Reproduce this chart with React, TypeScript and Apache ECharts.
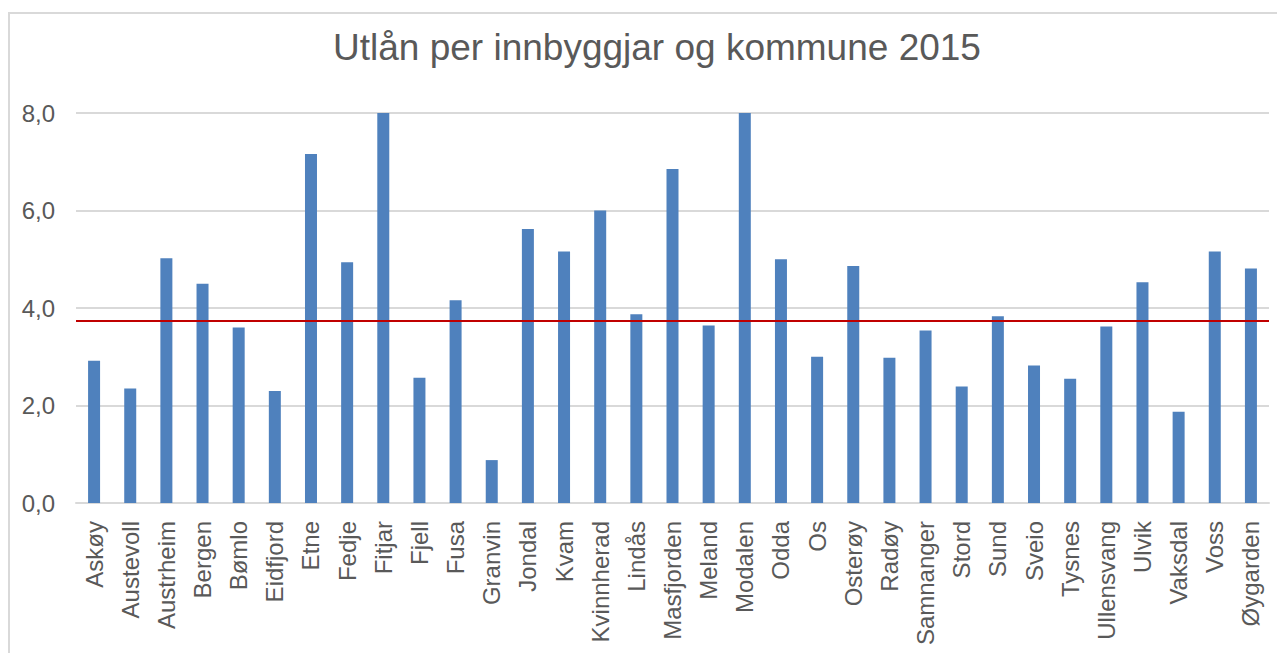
import React, { useEffect, useRef } from "react";
import * as echarts from "echarts";

const TITLE = "Utlån per innbyggjar og kommune 2015";

const categories = [
  "Askøy", "Austevoll", "Austrheim", "Bergen", "Bømlo", "Eidfjord", "Etne", "Fedje",
  "Fitjar", "Fjell", "Fusa", "Granvin", "Jondal", "Kvam", "Kvinnherad", "Lindås",
  "Masfjorden", "Meland", "Modalen", "Odda", "Os", "Osterøy", "Radøy", "Samnanger",
  "Stord", "Sund", "Sveio", "Tysnes", "Ullensvang", "Ulvik", "Vaksdal", "Voss", "Øygarden",
];

const loansPerInhabitant = [
  2.92, 2.35, 5.02, 4.5, 3.6, 2.3, 7.16, 4.94,
  8.0, 2.57, 4.16, 0.88, 5.62, 5.16, 6.0, 3.87,
  6.85, 3.64, 8.0, 5.0, 3.0, 4.86, 2.98, 3.54,
  2.39, 3.83, 2.82, 2.55, 3.62, 4.53, 1.87, 5.16, 4.81,
];

const averageValue = 3.73;

const yTicks = { min: 0, max: 8, interval: 2 };

export default function App() {
  const ref = useRef<HTMLDivElement>(null);

  useEffect(() => {
    if (!ref.current) return;
    const chart = echarts.init(ref.current, null, { renderer: "svg" });
    const font = "'Liberation Sans', Arial, sans-serif";
    chart.setOption({
      animation: false,
      textStyle: { fontFamily: font },
      title: {
        text: TITLE,
        left: 644,
        top: 16,
        textAlign: "center",
        textStyle: { fontSize: 37, fontWeight: "normal", color: "#595959", fontFamily: font },
      },
      graphic: [
        {
          type: "rect",
          shape: { x: 1, y: 5, width: 1400, height: 800 },
          style: { fill: "none", stroke: "#D9D9D9", lineWidth: 2 },
          silent: true,
        },
      ],
      grid: { left: 68, right: 16, top: 105, bottom: 150, containLabel: false },
      xAxis: {
        type: "category",
        data: categories,
        axisLine: { show: true, lineStyle: { color: "#D9D9D9", width: 2 } },
        axisTick: { show: false },
        axisLabel: {
          interval: 0,
          rotate: 90,
          fontSize: 24,
          color: "#595959",
          margin: 18,
          fontFamily: font,
        },
      },
      yAxis: {
        type: "value",
        min: yTicks.min,
        max: yTicks.max,
        interval: yTicks.interval,
        axisLine: { show: false },
        axisTick: { show: false },
        axisLabel: {
          fontSize: 24,
          color: "#595959",
          margin: 21,
          fontFamily: font,
          formatter: (v: number) => v.toFixed(1).replace(".", ","),
        },
        splitLine: { lineStyle: { color: "#D9D9D9", width: 2 } },
      },
      series: [
        {
          type: "bar",
          data: loansPerInhabitant,
          barWidth: 12,
          itemStyle: { color: "#4F81BD" },
          markLine: {
            silent: true,
            symbol: "none",
            label: { show: false },
            lineStyle: { color: "#C00000", width: 2, type: "solid" },
            data: [{ yAxis: averageValue }],
          },
        },
      ],
    });
    return () => chart.dispose();
  }, []);

  return <div ref={ref} style={{ width: 1277, height: 645 }} />;
}
